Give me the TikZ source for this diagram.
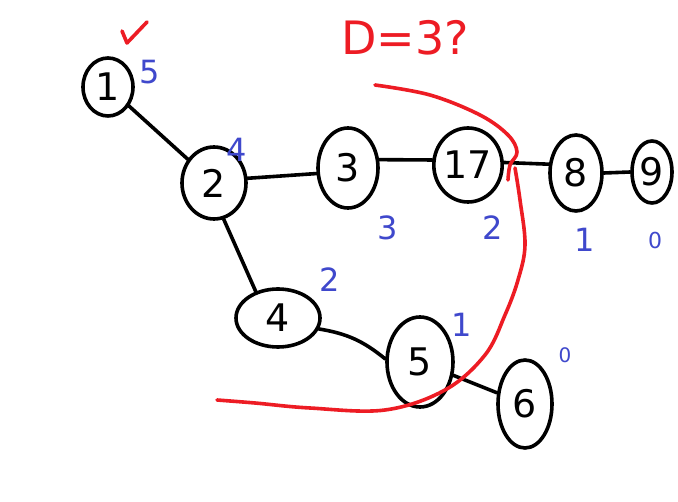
\documentclass[tikz,border=0pt]{standalone}
\usepackage{fontspec}
\setmainfont{DejaVu Sans}
\usetikzlibrary{shapes.geometric}
\definecolor{penblue}{HTML}{3F48CC}
\definecolor{penred}{HTML}{ED1C24}
\begin{document}
\begin{tikzpicture}[x=1pt,y=-1pt,
  vert/.style={ellipse,draw,line width=3.6pt,inner sep=0pt,font=\fontsize{38}{38}\selectfont},
  edge/.style={line width=3.6pt,line cap=round},
  deg/.style={text=penblue,font=\fontsize{32}{32}\selectfont,inner sep=0pt},
  redpen/.style={draw=penred,line width=3.6pt,line cap=round,line join=round}]
\useasboundingbox (0,0) rectangle (678,502);
\fill[white] (0,0) rectangle (678,502);
% vertices
\node[vert,minimum width=50pt,minimum height=58pt] (n1) at (108,87) {1};
\node[vert,minimum width=64pt,minimum height=72pt] (n2) at (214,183) {2};
\node[vert,minimum width=60pt,minimum height=80pt] (n3) at (348,168) {3};
\node[vert,minimum width=64pt,minimum height=74pt] (n17) at (468,165) {17};
\node[vert,minimum width=52pt,minimum height=76pt] (n8) at (576,173) {8};
\node[vert,minimum width=40pt,minimum height=62pt] (n9) at (652,172) {9};
\node[vert,minimum width=84pt,minimum height=58pt] (n4) at (278,318) {4};
\node[vert,minimum width=66pt,minimum height=90pt] (n5) at (420,362) {5};
\node[vert,minimum width=54pt,minimum height=88pt] (n6) at (525,404) {6};
% edges
\draw[edge] (n1) -- (n2);
\draw[edge] (n2.8) -- (n3.190);
\draw[edge] (n3.15) -- (n17.172);
\draw[edge] (n17.4) -- (n8.162);
\draw[edge] (n8.east) -- (n9.west);
\draw[edge] (n2.-75) -- (n4.130);
\draw[edge] (n4.-15) to[bend left=15] (n5.175);
\draw[edge] (n5) -- (n6);
% degree labels
\node[deg] (d1) at (150,72) {5};
\node[deg] (d2) at (237,150) {4};
\node[deg] (d3) at (388,228) {3};
\node[deg] (d17) at (493,228) {2};
\node[deg] (d8) at (585,240) {1};
\node[deg] (d9) at (655,240) {\fontsize{22}{22}\selectfont 0};
\node[deg] (d4) at (330,280) {2};
\node[deg] (d5) at (462,325) {1};
\node[deg] (d6) at (565,355) {\fontsize{20}{20}\selectfont 0};
% red annotations
\node[text=penred,font=\fontsize{46}{46}\selectfont,inner sep=0pt] (title) at (405,38) {D=3?};
\draw[redpen] (122,31) -- (127,43) -- (147,22);
\draw[redpen] plot[smooth,tension=0.6] coordinates {(375,85) (430,95) (480,115) (508,135) (517,152) (510,165) (508,180)};
\draw[redpen] plot[smooth,tension=0.6] coordinates {(515,168) (520,200) (525,245) (518,280) (505,315) (485,355) (445,390) (385,410) (310,408) (255,403) (217,400)};
\end{tikzpicture}
\end{document}
